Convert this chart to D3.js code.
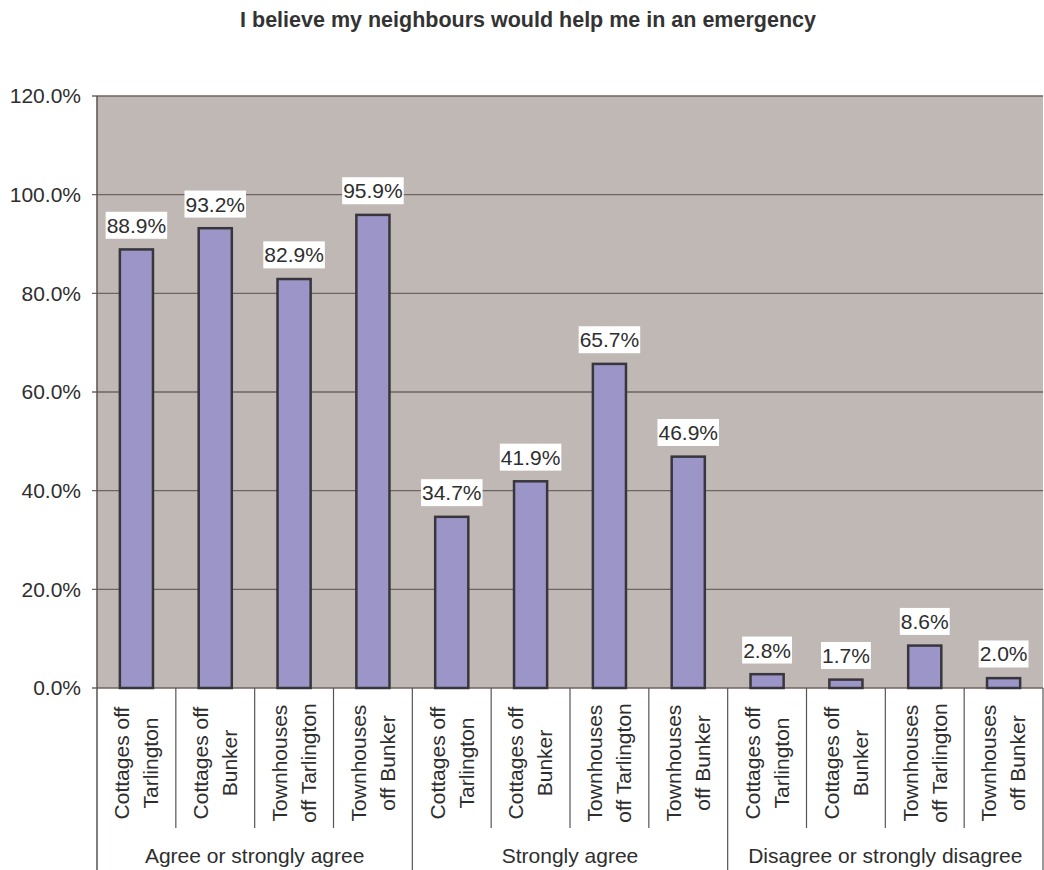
<!DOCTYPE html>
<html><head><meta charset="utf-8">
<script src="https://cdn.jsdelivr.net/npm/d3@7"></script>
<style>body{margin:0;background:#fff}svg{display:block;font-family:"Liberation Sans",Arial,sans-serif}</style>
</head><body>
<svg id="c" width="1044" height="870"></svg>
<script>
const title = "I believe my neighbours would help me in an emergency";
const groups = ["Agree or strongly agree", "Strongly agree", "Disagree or strongly disagree"];
const places = [["Cottages off","Tarlington"],["Cottages off","Bunker"],["Townhouses","off Tarlington"],["Townhouses","off Bunker"]];
const agreeValues = [88.9, 93.2, 82.9, 95.9];
const stronglyAgreeValues = [34.7, 41.9, 65.7, 46.9];
const disagreeValues = [2.8, 1.7, 8.6, 2.0];
const yTicks = [0, 20, 40, 60, 80, 100, 120];

const seriesByGroup = [agreeValues, stronglyAgreeValues, disagreeValues];
const data = [];
groups.forEach((g, gi) => places.forEach((p, pi) => data.push({group: g, gi, place: p, key: gi + "-" + pi, value: seriesByGroup[gi][pi]})));

const svg = d3.select("#c");
const L = 97, R = 1043, T = 96, B = 688;
const FS = 21, TXT = "#2e2e2e";
const x = d3.scaleBand().domain(data.map(d => d.key)).range([L, R]).paddingInner(0).paddingOuter(0);
const y = d3.scaleLinear().domain([0, 120]).range([B, T]);

svg.append("text").attr("x", 528).attr("y", 27).attr("text-anchor", "middle")
  .attr("font-weight", "bold").attr("font-size", 21.5).attr("fill", "#333").text(title);

svg.append("rect").attr("x", L).attr("y", T).attr("width", R - L).attr("height", B - T).attr("fill", "#c0b8b5");

// gridlines
svg.append("g").selectAll("line").data(yTicks).join("line")
  .attr("x1", L - 5).attr("x2", R).attr("y1", d => y(d)).attr("y2", d => y(d))
  .attr("stroke", "#6e6461").attr("stroke-width", 1.3);

// y labels
svg.append("g").selectAll("text").data(yTicks).join("text")
  .attr("x", 81).attr("y", d => y(d)).attr("dy", "0.35em").attr("text-anchor", "end")
  .attr("font-size", FS).attr("fill", TXT).text(d => d.toFixed(1) + "%");

// bars
const bw = x.bandwidth() * 0.42;
svg.append("g").selectAll("rect").data(data).join("rect")
  .attr("x", d => x(d.key) + (x.bandwidth() - bw) / 2).attr("width", bw)
  .attr("y", d => y(d.value)).attr("height", d => y(0) - y(d.value))
  .attr("fill", "#9c95c8").attr("stroke", "#38363c").attr("stroke-width", 2.5);

// left axis line
svg.append("line").attr("x1", L).attr("x2", L).attr("y1", T).attr("y2", 870).attr("stroke", "#5a5050").attr("stroke-width", 1.5);

// category separators
const bx = d3.range(1, 12).map(i => x(data[i].key));
svg.append("g").selectAll("line").data(bx).join("line")
  .attr("x1", d => d).attr("x2", d => d).attr("y1", B).attr("y2", (d, i) => ((i + 1) % 4 === 0) ? 870 : 828)
  .attr("stroke", "#555").attr("stroke-width", 1.2);
svg.append("line").attr("x1", R).attr("x2", R).attr("y1", B).attr("y2", 870).attr("stroke", "#555").attr("stroke-width", 1.2);

// category labels
const cat = svg.append("g").selectAll("g").data(data).join("g")
  .attr("transform", d => `translate(${x(d.key) + x.bandwidth() / 2},763) rotate(-90)`);
cat.append("text").attr("text-anchor", "middle").attr("font-size", FS).attr("fill", TXT)
  .selectAll("tspan").data(d => d.place).join("tspan")
  .attr("x", 0).attr("y", (d, i) => i === 0 ? -14.5 : 14.5).attr("dy", "0.35em").text(d => d);

// group labels
svg.append("g").selectAll("text").data(groups).join("text")
  .attr("x", (g, gi) => (x(gi + "-0") + x(gi + "-3") + x.bandwidth()) / 2).attr("y", 856).attr("dy", "0.35em")
  .attr("text-anchor", "middle").attr("font-size", FS).attr("fill", TXT).text(g => g);

// value labels
const vl = svg.append("g").selectAll("g").data(data).join("g")
  .attr("transform", d => `translate(${x(d.key) + x.bandwidth() / 2},${y(d.value) - 24})`);
vl.append("text").attr("text-anchor", "middle").attr("dy", "0.35em").attr("font-size", FS).attr("fill", TXT)
  .text(d => d.value.toFixed(1) + "%");
vl.each(function() {
  const g = d3.select(this), bb = g.select("text").node().getBBox();
  g.insert("rect", "text").attr("x", bb.x - 1).attr("y", bb.y - 2).attr("width", bb.width + 2).attr("height", bb.height + 4).attr("fill", "#fff");
});
</script>
</body></html>
